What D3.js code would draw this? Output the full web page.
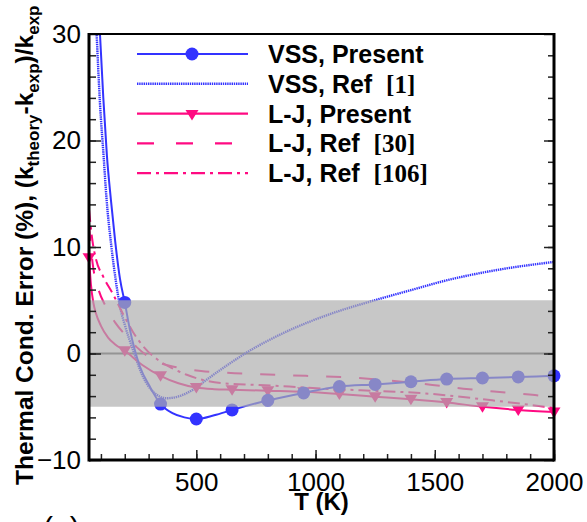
<!DOCTYPE html>
<html>
<head>
<meta charset="utf-8">
<script src="https://cdn.jsdelivr.net/npm/d3@7"></script>
<style>
  body { margin: 0; background: #fff; }
  svg { display: block; }
  text { font-family: "Liberation Sans", Arial, sans-serif; fill: #000; white-space: pre; }
</style>
</head>
<body>
<div class="chart"></div>
<script>
// Values: [T (K), error (%)]
var vssPresent = [[90, 33], [96, 30], [110, 24], [125, 18.6], [142, 14.4], [160, 10.5], [180, 7.0], [200, 4.8], [221, 2.3], [263, -1.2], [305, -3.1], [350, -4.75], [400, -5.6], [450, -6.0], [500, -6.15], [575, -5.8], [650, -5.3], [800, -4.4], [950, -3.7], [1100, -3.1], [1250, -2.9], [1400, -2.65], [1550, -2.4], [1700, -2.3], [1850, -2.2], [2000, -2.1]];
var vssPresentMarks = [[200, 4.8], [350, -4.75], [500, -6.15], [650, -5.3], [800, -4.4], [950, -3.7], [1100, -3.1], [1250, -2.9], [1400, -2.65], [1550, -2.4], [1700, -2.3], [1850, -2.2], [2000, -2.1]];
var vssRef = [[76, 33], [82, 30], [96, 23.5], [111, 18.6], [124, 14.4], [143, 10.2], [162, 6.9], [180, 4.4], [200, 2.7], [235, 0.3], [277, -2.2], [319, -3.6], [375, -4.2], [430, -4.0], [486, -3.4], [550, -2.35], [620, -1.25], [723, 0.25], [849, 1.75], [988, 3.1], [1100, 4.0], [1225, 4.85], [1400, 5.95], [1546, 6.85], [1750, 7.8], [2000, 8.6]];
var ljPresent = [[50, 9.0], [58, 6.5], [68, 4.8], [80, 3.7], [100, 2.6], [130, 1.5], [160, 0.85], [200, 0.26], [275, -1.1], [350, -2.1], [425, -2.8], [500, -3.2], [575, -3.35], [650, -3.4], [800, -3.5], [950, -3.6], [1100, -3.8], [1250, -4.05], [1400, -4.3], [1550, -4.6], [1700, -5.0], [1850, -5.3], [2000, -5.5]];
var ljPresentMarks = [[50, 9.0], [200, 0.26], [350, -2.1], [500, -3.2], [650, -3.4], [800, -3.5], [950, -3.6], [1100, -3.8], [1250, -4.05], [1400, -4.3], [1550, -4.6], [1700, -5.0], [1850, -5.3], [2000, -5.5]];
var ljRef30 = [[50, 12.0], [65, 8.5], [90, 6.0], [121, 4.4], [160, 2.9], [200, 1.8], [250, 0.6], [333, -0.75], [420, -1.3], [520, -1.65], [660, -1.85], [770, -1.95], [960, -2.1], [1150, -2.25], [1340, -2.6], [1490, -2.95], [1620, -3.3], [1760, -3.6], [1920, -3.9], [2000, -4.1]];
var ljRef106 = [[50, 13.5], [65, 10.5], [80, 8.8], [110, 7.2], [150, 5.6], [200, 3.4], [235, 2.0], [280, 0.6], [333, -0.5], [400, -1.4], [460, -2.0], [530, -2.5], [612, -2.8], [751, -2.95], [890, -3.1], [1030, -3.3], [1190, -3.45], [1462, -3.75], [1741, -4.4], [2000, -5.1]];

var xMajor = [500, 1000, 1500, 2000];
var yMajor = [-10, 0, 10, 20, 30];
var legendLabels = [
  { text: "VSS, Present", ref: "" },
  { text: "VSS, Ref  ", ref: "[1]" },
  { text: "L-J, Present", ref: "" },
  { text: "L-J, Ref  ", ref: "[30]" },
  { text: "L-J, Ref  ", ref: "[106]" }
];

var width = 587, height = 522;
var blue = "#3333ff", pink = "#ff0a82";

var svg = d3.select(".chart").append("svg")
  .attr("width", width)
  .attr("height", height);

var x = d3.scaleLinear().domain([50, 2000]).range([89, 554]);
var y = d3.scaleLinear().domain([-10, 30]).range([460, 34]);

svg.append("defs").append("clipPath").attr("id", "plot")
  .append("rect")
  .attr("x", x(50)).attr("y", y(30))
  .attr("width", x(2000) - x(50)).attr("height", y(-10) - y(30));

// zero line (under the band)
svg.append("line")
  .attr("x1", x(50)).attr("x2", x(2000))
  .attr("y1", y(0)).attr("y2", y(0))
  .style("stroke", "#5a5a5a")
  .style("stroke-width", 2);

var line = d3.line()
  .x(function (d) { return x(d[0]) })
  .y(function (d) { return y(d[1]) })
  .curve(d3.curveMonotoneX);

var series = [
  { values: vssRef, color: blue, dash: "1.4,0.8", width: 2.4 },
  { values: ljRef30, color: pink, dash: "15,18", width: 2 },
  { values: ljRef106, color: pink, dash: "12,5,3,5", width: 2 },
  { values: ljPresent, color: pink, dash: null, width: 2 },
  { values: vssPresent, color: blue, dash: null, width: 2 }
];

var lines = svg.append("g").attr("clip-path", "url(#plot)");
lines.selectAll("path")
  .data(series).enter()
  .append("path")
  .attr("d", function (d) { return line(d.values) })
  .style("fill", "none")
  .style("stroke", function (d) { return d.color })
  .style("stroke-width", function (d) { return d.width })
  .style("stroke-dasharray", function (d) { return d.dash });

var triangle = "M-6.5,-4.5L6.5,-4.5L0,6Z";

svg.append("g").selectAll("path")
  .data(ljPresentMarks).enter()
  .append("path")
  .attr("d", triangle)
  .attr("transform", function (d) { return `translate(${x(d[0])},${y(d[1])})` })
  .style("fill", pink);

svg.append("g").selectAll("circle")
  .data(vssPresentMarks).enter()
  .append("circle")
  .attr("cx", function (d) { return x(d[0]) })
  .attr("cy", function (d) { return y(d[1]) })
  .attr("r", 6.5)
  .style("fill", blue);

// gray +-5% band sits on top of the curves
svg.append("rect")
  .attr("x", x(50)).attr("width", x(2000) - x(50))
  .attr("y", y(5)).attr("height", y(-5) - y(5))
  .style("fill", "rgb(174,174,174)")
  .style("opacity", 0.69);

// Axes, ticks pointing inward
var xMinorTicks = d3.range(100, 2001, 100);
var yMinorTicks = d3.range(-8, 30, 2);

function styleAxis(g) {
  g.select(".domain").remove();
  g.selectAll("line").style("stroke", "#222").style("stroke-width", 1.5);
  g.selectAll("text").style("font-size", "26px");
}

svg.append("g")
  .attr("transform", `translate(0,${y(-10)})`)
  .call(d3.axisBottom(x).tickValues(xMinorTicks).tickSize(-6).tickFormat(""))
  .call(styleAxis);
svg.append("g")
  .attr("transform", `translate(0,${y(-10)})`)
  .call(d3.axisBottom(x).tickValues(xMajor).tickSize(-10).tickPadding(12.5).tickFormat(d3.format("d")))
  .call(styleAxis);

svg.append("g")
  .attr("transform", `translate(${x(50)},0)`)
  .call(d3.axisLeft(y).tickValues(yMinorTicks).tickSize(-7).tickFormat(""))
  .call(styleAxis);
svg.append("g")
  .attr("transform", `translate(${x(50)},0)`)
  .call(d3.axisLeft(y).tickValues(yMajor).tickSize(-12).tickPadding(8).tickFormat(d3.format("d")))
  .call(styleAxis);

svg.append("g")
  .attr("transform", `translate(${x(2000)},0)`)
  .call(d3.axisRight(y).tickValues(yMinorTicks).tickSize(-6).tickFormat(""))
  .call(styleAxis);
svg.append("g")
  .attr("transform", `translate(${x(2000)},0)`)
  .call(d3.axisRight(y).tickValues(yMajor).tickSize(-10).tickFormat(""))
  .call(styleAxis);

// frame
var frame = svg.append("g").style("stroke", "#000").style("fill", "none");
frame.append("line").attr("x1", x(50)).attr("x2", x(2000)).attr("y1", y(30)).attr("y2", y(30)).style("stroke-width", 2);
frame.append("line").attr("x1", x(50)).attr("x2", x(2000)).attr("y1", y(-10)).attr("y2", y(-10)).style("stroke-width", 3);
frame.append("line").attr("x1", x(50)).attr("x2", x(50)).attr("y1", y(30) - 1).attr("y2", y(-10) + 1.5).style("stroke-width", 3);
frame.append("line").attr("x1", x(2000)).attr("x2", x(2000)).attr("y1", y(30) - 1).attr("y2", y(-10) + 1.5).style("stroke-width", 3);

// axis titles
svg.append("text")
  .attr("x", (x(50) + x(2000)) / 2)
  .attr("y", 510)
  .attr("text-anchor", "middle")
  .style("font-size", "24px")
  .style("font-weight", "bold")
  .text("T (K)");

var yTitle = svg.append("text")
  .attr("transform", "translate(33,485) rotate(-90)")
  .style("font-size", "24.5px")
  .style("font-weight", "bold");
yTitle.append("tspan").text("Thermal Cond. Error (%), (k");
yTitle.append("tspan").attr("dy", 6).style("font-size", "17px").text("theory");
yTitle.append("tspan").attr("dy", -6).text("-k");
yTitle.append("tspan").attr("dy", 6).style("font-size", "17px").text("exp");
yTitle.append("tspan").attr("dy", -6).text(")/k");
yTitle.append("tspan").attr("dy", 6).style("font-size", "17px").text("exp");

// panel label, cut by the bottom edge
svg.append("text")
  .attr("x", 43).attr("y", 538)
  .style("font-size", "30px")
  .text("(a)");

// Legend
var legendStyles = [
  { color: blue, dash: null, width: 2.2, mark: "circle" },
  { color: blue, dash: "1.4,0.8", width: 2.6, mark: null },
  { color: pink, dash: null, width: 2.2, mark: "triangle" },
  { color: pink, dash: "17,22", width: 2.2, mark: null },
  { color: pink, dash: "14,5,3,5", width: 2.2, mark: null }
];

var legend = svg.append("g");
var rows = legend.selectAll("g")
  .data(legendLabels).enter()
  .append("g")
  .attr("transform", function (d, i) { return `translate(0,${54 + i * 29.8})` });

rows.append("line")
  .attr("x1", 137).attr("x2", 248)
  .style("stroke", function (d, i) { return legendStyles[i].color })
  .style("stroke-width", function (d, i) { return legendStyles[i].width })
  .style("stroke-dasharray", function (d, i) { return legendStyles[i].dash });

rows.filter(function (d, i) { return legendStyles[i].mark == "circle" })
  .append("circle").attr("cx", 192).attr("r", 6.5).style("fill", blue);
rows.filter(function (d, i) { return legendStyles[i].mark == "triangle" })
  .append("path").attr("d", triangle).attr("transform", "translate(192,1)").style("fill", pink);

var labels = rows.append("text")
  .attr("x", 268)
  .attr("dy", "0.36em")
  .attr("xml:space", "preserve")
  .style("font-size", "25px")
  .style("font-weight", "bold");
labels.append("tspan").text(function (d) { return d.text });
labels.append("tspan")
  .style("font-family", "'Liberation Serif', 'Times New Roman', serif")
  .text(function (d) { return d.ref });
</script>
</body>
</html>
